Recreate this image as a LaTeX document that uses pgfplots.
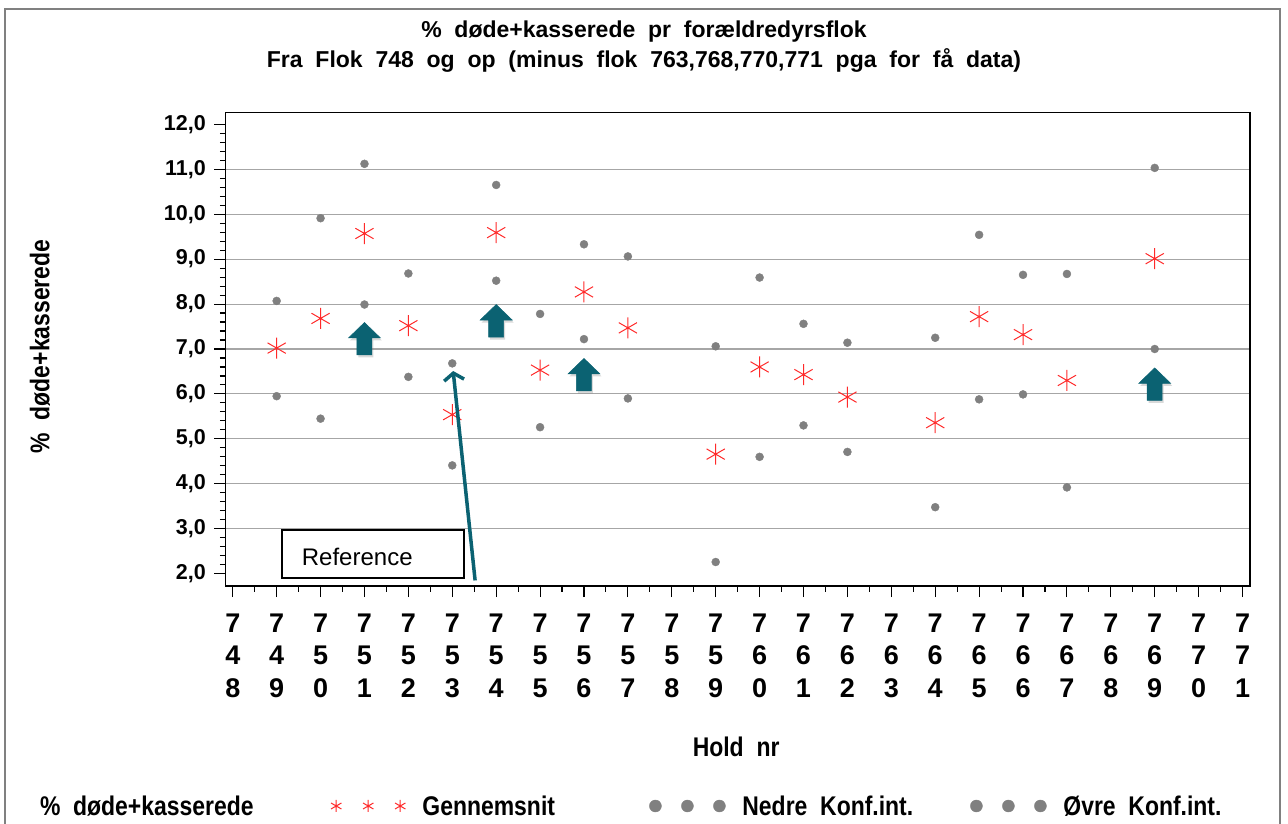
\documentclass[border=0pt]{standalone}
\usepackage{pgfplots}
\usepackage{pgfplotstable}
\pgfplotsset{compat=1.18}
\usepackage{fontspec}
\setmainfont{Liberation Sans}[WordSpace=2]
\newfontfamily\condfont{Liberation Sans}[FakeStretch=0.85,WordSpace=2]
\usetikzlibrary{arrows.meta,shadows}
\definecolor{tealarrow}{HTML}{0B6272}
\definecolor{redast}{HTML}{FF2A2A}
\definecolor{dotgray}{HTML}{808080}
\definecolor{gridgray}{HTML}{A6A6A6}
\definecolor{framegray}{HTML}{808080}
\pgfplotstableread{
x mean lo hi
749 7.02 5.95 8.07
750 7.68 5.45 9.91
751 9.57 7.99 11.12
752 7.52 6.38 8.68
753 5.54 4.41 6.68
754 9.59 8.52 10.65
755 6.53 5.26 7.78
756 8.27 7.22 9.33
757 7.47 5.90 9.06
759 4.66 2.26 7.06
760 6.60 4.60 8.59
761 6.43 5.30 7.56
762 5.93 4.71 7.14
764 5.36 3.48 7.25
765 7.72 5.88 9.54
766 7.32 5.99 8.65
767 6.30 3.92 8.67
769 9.01 7.00 11.03
}\datatab
\begin{document}
\begin{tikzpicture}
\useasboundingbox (-225.3pt,-237pt) rectangle (1062.7pt,586pt);
\draw[framegray, line width=1.3pt] (-220.3pt,-240pt) -- (-220.3pt,577pt) -- (1054.7pt,577pt) -- (1054.7pt,-240pt);
\begin{axis}[
  scale only axis, width=1024.7pt, height=473.7pt,
  xmin=747.83, xmax=771.17, ymin=1.726, ymax=12.267,
  clip mode=individual,
  axis line style={line width=1.4pt},
  tick pos=left, tick align=outside,
  major tick length=11pt, minor tick length=5.5pt,
  tick style={black, line width=1.1pt},
  xtick={748,...,771},
  minor xtick={748.5,749.5,...,770.5},
  xticklabels={{7\\4\\8},{7\\4\\9},{7\\5\\0},{7\\5\\1},{7\\5\\2},{7\\5\\3},{7\\5\\4},{7\\5\\5},{7\\5\\6},{7\\5\\7},{7\\5\\8},{7\\5\\9},{7\\6\\0},{7\\6\\1},{7\\6\\2},{7\\6\\3},{7\\6\\4},{7\\6\\5},{7\\6\\6},{7\\6\\7},{7\\6\\8},{7\\6\\9},{7\\7\\0},{7\\7\\1}},
  xticklabel style={align=center, font=\fontsize{27}{32.5}\selectfont\bfseries, yshift=-13pt},
  ytick={3,...,11},
  yticklabels={{3,0},{4,0},{5,0},{6,0},{7,0},{8,0},{9,0},{10,0},{11,0}},
  extra y ticks={2,12},
  extra y tick labels={{2,0},{12,0}},
  extra y tick style={grid=none},
  minor ytick={2,2.2,...,12.01},
  ymajorgrids, major grid style={gridgray, line width=1.1pt},
  yticklabel style={font=\fontsize{21.5}{25}\selectfont\bfseries, xshift=-5pt},
  every axis x label/.style={at={(axis description cs:0.4985,-0.3604)}, anchor=base, font=\fontsize{27}{30}\condfont\bfseries},
  every axis y label/.style={at={(axis description cs:-0.1718,0.5056)}, rotate=90, anchor=base, font=\fontsize{27}{30}\condfont\bfseries},
  xlabel={Hold nr},
  ylabel={\% døde+kasserede},
  every axis title/.style={at={(axis description cs:0.4086,1.1583)}, anchor=base, font=\fontsize{23}{27}\selectfont\bfseries},
  title={\% døde+kasserede pr forældredyrsflok},
  legend columns=4,
  legend cell align=left,
  legend image code/.code={\draw[#1] plot[only marks] coordinates {(0pt,0pt) (32pt,0pt) (64pt,0pt)};},
  legend style={at={(axis description cs:-0.1974,-0.4644)}, anchor=west, draw=none, fill=none,
    inner sep=0pt, outer sep=0pt, nodes={inner sep=0pt},
    font=\fontsize{27}{30}\condfont\bfseries,
    /tikz/every odd column/.style={column sep=17pt},
    /tikz/every even column/.style={column sep=0pt}},
]
\addlegendimage{empty legend}
\addlegendentry{\makebox[291pt][l]{\% døde+kasserede}}
\addplot[only marks, mark=asterisk, mark size=10.5pt, color=redast, mark options={line width=1pt}, legend image post style={mark size=6pt}]
  table[x=x, y=mean]{\datatab};
\addlegendentry{\makebox[227pt][l]{Gennemsnit}}
\addplot[only marks, mark=*, mark size=4pt, color=dotgray, legend image post style={mark size=6pt}]
  table[x=x, y=lo]{\datatab};
\addlegendentry{\makebox[228pt][l]{Nedre Konf.int.}}
\addplot[only marks, mark=*, mark size=4pt, color=dotgray, legend image post style={mark size=6pt}]
  table[x=x, y=hi]{\datatab};
\addlegendentry{Øvre Konf.int.}
\node[anchor=base, font=\fontsize{23}{27}\selectfont\bfseries] at (axis description cs:0.4086,1.0950) {Fra Flok 748 og op (minus flok 763,768,770,771 pga for få data)};
% block arrows
\foreach \ax/\ay in {751/7.59, 754/7.99, 756/6.79, 769/6.58}{
  \edef\temp{\noexpand\draw[fill=tealarrow, draw=tealarrow, line width=0.5pt, drop shadow={shadow xshift=1.5pt, shadow yshift=-2.5pt, opacity=0.3}]
    (axis cs:\ax,\ay) -- ++(16pt,-15.5pt) -- ++(-8.5pt,0pt) -- ++(0pt,-17pt) -- ++(-15pt,0pt) -- ++(0pt,17pt) -- ++(-8.5pt,0pt) -- cycle;}
  \temp
}
% long arrow
\draw[tealarrow, line width=3.5pt, -{Straight Barb[length=7pt, width=20pt]}] (axis cs:753.52,1.85) -- (axis cs:753.02,6.51);
% reference box
\node[draw=black, line width=1.8pt, fill=white, minimum width=182pt, minimum height=48pt, anchor=south west, inner sep=0pt] at (axis cs:749.10,1.882) {};
\node[anchor=base west, font=\fontsize{24}{28}\selectfont, inner sep=0pt] at (axis cs:749.57,2.178) {Reference};
\end{axis}
\end{tikzpicture}
\end{document}
